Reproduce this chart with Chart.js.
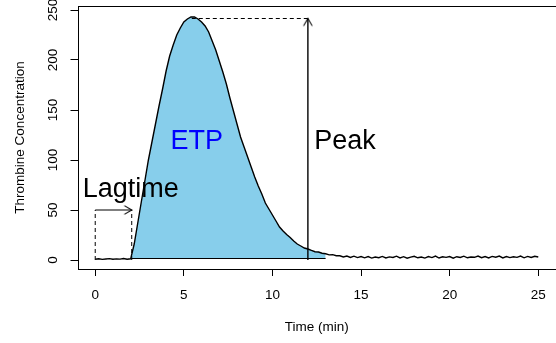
<!DOCTYPE html>
<html><head><meta charset="utf-8">
<script src="https://cdn.jsdelivr.net/npm/chart.js@4.4.1/dist/chart.umd.min.js"></script>
<style>
html,body{margin:0;padding:0;background:#fff;overflow:hidden;width:556px;height:343px}
#wrap{width:556px;height:343px;overflow:hidden;position:relative}
canvas{display:block}
</style></head>
<body><div id="wrap"><canvas id="c" width="562" height="343"></canvas></div>
<script>
// ---- data ----
const timeMin = [
  0.0,0.2,0.4,0.6,0.8,1.0,1.2,1.4,1.6,1.8,
  2.0,2.2,2.4,2.6,2.8,3.0,3.2,3.4,3.6,3.8,
  4.0,4.2,4.4,4.6,4.8,5.0,5.2,5.4,5.6,5.8,
  6.0,6.2,6.4,6.6,6.8,7.0,7.2,7.4,7.6,7.8,
  8.0,8.2,8.4,8.6,8.8,9.0,9.2,9.4,9.6,9.8,
  10.0,10.2,10.4,10.6,10.8,11.0,11.2,11.4,11.6,11.8,
  12.0,12.2,12.4,12.6,12.8,13.0,13.2,13.4,13.6,13.8,
  14.0,14.2,14.4,14.6,14.8,15.0,15.2,15.4,15.6,15.8,
  16.0,16.2,16.4,16.6,16.8,17.0,17.2,17.4,17.6,17.8,
  18.0,18.2,18.4,18.6,18.8,19.0,19.2,19.4,19.6,19.8,
  20.0,20.2,20.4,20.6,20.8,21.0,21.2,21.4,21.6,21.8,
  22.0,22.2,22.4,22.6,22.8,23.0,23.2,23.4,23.6,23.8,
  24.0,24.2,24.4,24.6,24.8,25.0
];
const thrombin = [
  0.8,1.2,0.6,1.0,1.4,0.7,1.1,0.9,1.5,0.8,
  1.2,16,37,58,79,100,118,136,154,171,
  189,204,215,225,232,238,241,243,243,241,
  238,234,228,219,210,199,188,176,162,149,
  136,123,113,103,93,83,74,66,57,51,
  45,39,33,29,25.5,22.5,19,16,14,12,
  11,9.6,8.3,8.0,6.8,6.2,5.1,5.4,4.3,4.2,
  3.1,4.0,2.6,3.8,2.4,3.5,2.2,3.4,1.9,3.0,
  2.3,3.6,2.0,3.1,2.5,3.8,2.1,3.3,1.8,2.9,
  3.7,2.2,3.0,1.9,3.4,2.4,3.9,2.0,3.2,2.6,
  3.5,1.8,3.3,2.5,3.8,2.2,3.0,2.7,4.0,2.3,
  3.4,2.0,3.6,2.8,3.9,2.1,3.5,2.4,3.2,2.6,
  3.9,2.2,3.6,2.5,3.7,3.0
];
const xTicks = [0,5,10,15,20,25];
const yTicks = [0,50,100,150,200,250];
const xRange = [-1, 26];
const yRange = [-9, 254];

// annotation values (data units)
const lagTime = 2.06;
const lagLevel = 50;
const peakTime = 5.45;
const peakValue = 241.5;
const peakMarkTime = 12;
const etpRange = [2.0, 13.0];
const etpBase = 1.5;
const annotText = ['Lagtime', 'ETP', 'Peak'];
const annotX = [2.0, 5.73, 12.36];
const annotY = [63, 111, 111];

// ---- drawing ----
const FONT = '"Liberation Sans", Arial, Helvetica, sans-serif';

function makeArrowHead() {
  const c = document.createElement('canvas');
  c.width = 20; c.height = 20;
  const g = c.getContext('2d');
  g.strokeStyle = '#000'; g.lineWidth = 1.1;
  g.beginPath();
  g.moveTo(2.6, 5.6); g.lineTo(10, 10); g.lineTo(2.6, 14.4);
  g.stroke();
  return c;
}
const arrowHead = makeArrowHead();

const curve = timeMin.map((t, i) => ({x: t, y: thrombin[i]}));
const etpPts = curve.filter(p => p.x >= etpRange[0] && p.x <= etpRange[1]);

const datasets = [
  { // main thrombin curve
    data: curve, borderColor: '#000', borderWidth: 1.4, pointRadius: 0,
    fill: false, tension: 0, order: 0
  },
  { // ETP area
    data: etpPts, borderColor: 'rgba(0,0,0,0)', borderWidth: 0, pointRadius: 0,
    backgroundColor: '#87CEEB', fill: {value: etpBase}, tension: 0, order: 10
  },
  { // ETP base line
    data: [{x: etpRange[0], y: etpBase}, {x: etpRange[1], y: etpBase}],
    borderColor: '#000', borderWidth: 1, pointRadius: 0, fill: false, order: 5
  },
  { // lag box left dashed
    data: [{x: 0, y: 0}, {x: 0, y: lagLevel}],
    borderColor: '#000', borderWidth: 1, borderDash: [4, 3], pointRadius: 0, fill: false, order: 1
  },
  { // lag box right dashed
    data: [{x: lagTime, y: 0}, {x: lagTime, y: lagLevel}],
    borderColor: '#000', borderWidth: 1, borderDash: [4, 3], pointRadius: 0, fill: false, order: 1
  },
  { // lag arrow
    data: [{x: 0, y: lagLevel}, {x: lagTime, y: lagLevel}],
    borderColor: '#000', borderWidth: 1.2, fill: false, order: 1,
    pointRadius: [0, 6], pointStyle: ['circle', arrowHead], pointRotation: [0, 0],
    pointBorderWidth: 0
  },
  { // peak dashed
    data: [{x: peakTime, y: peakValue}, {x: peakMarkTime, y: peakValue}],
    borderColor: '#000', borderWidth: 1, borderDash: [4, 3], pointRadius: 0, fill: false, order: 1
  },
  { // peak arrow
    data: [{x: peakMarkTime, y: 0}, {x: peakMarkTime, y: peakValue}],
    borderColor: '#000', borderWidth: 1.4, fill: false, order: 1,
    pointRadius: [0, 6], pointStyle: ['circle', arrowHead], pointRotation: [0, -90],
    pointBorderWidth: 0
  }
];

const annotPlugin = {
  id: 'annot',
  afterDatasetsDraw(chart) {
    const {ctx, chartArea: a, scales: {x, y}} = chart;
    ctx.save();
    ctx.strokeStyle = '#000';
    ctx.lineWidth = 1;
    ctx.strokeRect(Math.round(a.left) + 0.5, Math.round(a.top) + 0.5,
                   Math.round(a.right - a.left), Math.round(a.bottom - a.top));
    ctx.font = '27px ' + FONT;
    ctx.textBaseline = 'alphabetic';
    const colors = ['#000', '#0000FF', '#000'];
    const aligns = ['center', 'center', 'left'];
    annotText.forEach((txt, i) => {
      ctx.fillStyle = colors[i];
      ctx.textAlign = aligns[i];
      ctx.fillText(txt, x.getPixelForValue(annotX[i]), y.getPixelForValue(annotY[i]));
    });
    ctx.restore();
  }
};

function fixX(s) { s.height = 74; s.paddingLeft = 0; s.paddingRight = 0; s.paddingTop = 0; s.paddingBottom = 0; }
function fixY(s) { s.width = 77.5; s.paddingLeft = 0; s.paddingRight = 0; s.paddingTop = 0; s.paddingBottom = 0; }

new Chart(document.getElementById('c'), {
  type: 'line',
  data: {datasets},
  plugins: [annotPlugin],
  options: {
    responsive: false,
    animation: false,
    events: [],
    layout: {padding: {top: 6, right: 4.2, left: 0, bottom: 0}},
    plugins: {legend: {display: false}, tooltip: {enabled: false}},
    scales: {
      x: {
        type: 'linear', min: xRange[0], max: xRange[1],
        afterBuildTicks: s => { s.ticks = xTicks.map(v => ({value: v})); },
        afterFit: fixX,
        grid: {drawOnChartArea: false, drawTicks: true, tickLength: 7, color: '#000', lineWidth: 1},
        border: {display: false},
        ticks: {color: '#000', font: {family: FONT, size: 13.5}, padding: 11, maxRotation: 0, autoSkip: false},
        title: {display: true, text: 'Time (min)', color: '#000', font: {family: FONT, size: 13.5}, padding: {top: 0, bottom: 8}}
      },
      y: {
        type: 'linear', min: yRange[0], max: yRange[1],
        afterBuildTicks: s => { s.ticks = yTicks.map(v => ({value: v})); },
        afterFit: fixY,
        grid: {drawOnChartArea: false, drawTicks: true, tickLength: 7, color: '#000', lineWidth: 1},
        border: {display: false},
        ticks: {color: '#000', font: {family: FONT, size: 13.5}, padding: 6, minRotation: 90, maxRotation: 90, crossAlign: 'center', autoSkip: false},
        title: {display: true, text: 'Thrombine Concentration', color: '#000', font: {family: FONT, size: 13.5}, padding: {top: 12, bottom: 0}}
      }
    }
  }
});
</script>
</body></html>
